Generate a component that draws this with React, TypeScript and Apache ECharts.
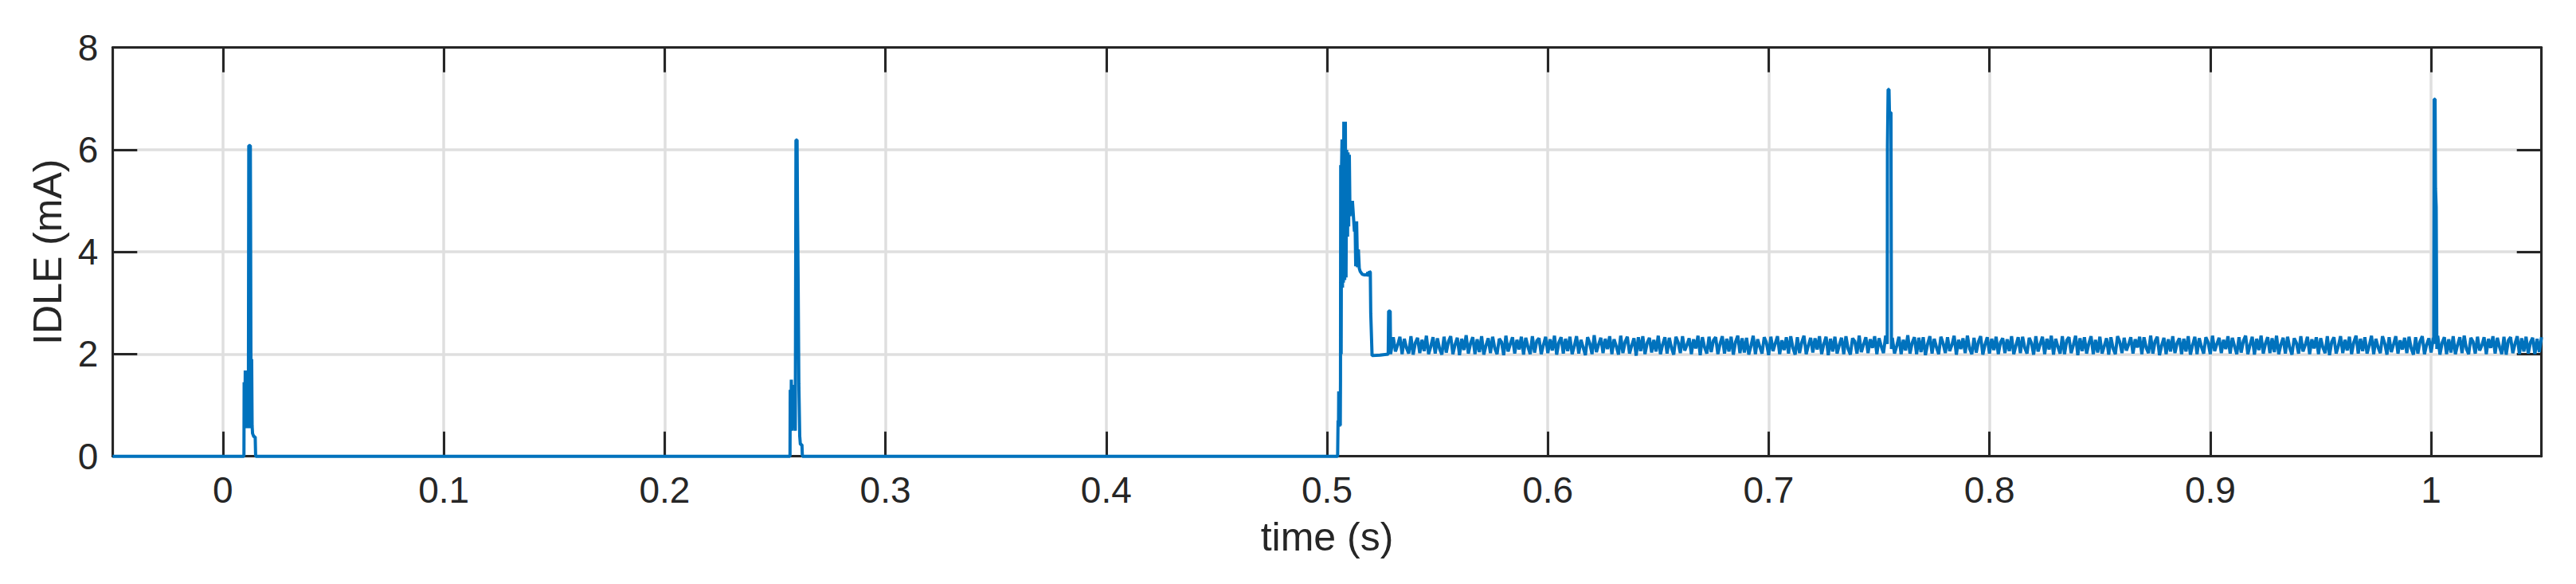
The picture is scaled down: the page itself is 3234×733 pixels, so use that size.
import React, { useEffect, useRef } from "react";
import * as echarts from "echarts";

// ---------- axes ----------
const X_MIN = -0.05;
const X_MAX = 1.05;
const X_SPLIT = 11;
const Y_MIN = 0;
const Y_MAX = 8;
const Y_STEP = 2;
const X_LABEL = "time (s)";
const Y_LABEL = "IDLE (mA)";

// ---------- data: [time (s), current (mA)] ----------
const IDLE_START: [number, number][] = [[-0.05, 0], [0.0095, 0]];

const BURST_1: [number, number][] = [
  [0.0096, 1.45], [0.0099, 0.6], [0.0101, 1.68], [0.0104, 0.55], [0.0106, 1.5],
  [0.0109, 0.6], [0.0112, 1.6], [0.0115, 0.55], [0.0117, 6.08], [0.0124, 6.08],
  [0.0125, 4.67], [0.0127, 1.4], [0.0128, 0.55], [0.013, 1.9], [0.0132, 0.6],
  [0.0134, 0.45], [0.014, 0.38], [0.0146, 0.38], [0.0148, 0], [0.2568, 0],
];

const BURST_2: [number, number][] = [
  [0.2569, 1.3], [0.2572, 0.6], [0.2574, 1.5], [0.2577, 0.5], [0.258, 1.4],
  [0.2584, 0.6], [0.2588, 1.2], [0.2592, 0.5], [0.2595, 6.19], [0.26, 6.19],
  [0.2602, 4.82], [0.2605, 3.33], [0.2608, 1.42], [0.2612, 0.4], [0.2615, 0.23],
  [0.2622, 0.23], [0.2624, 0], [0.5048, 0],
];

const WAKEUP: [number, number][] = [
  [0.505, 0.7], [0.5052, 0.6], [0.5053, 1.27], [0.5056, 0.58], [0.5058, 1.27],
  [0.506, 0.6], [0.5061, 1.5], [0.5062, 5.7], [0.5064, 2.0], [0.5066, 5.7],
  [0.5068, 6.2], [0.507, 3.3], [0.5072, 6.2], [0.5074, 3.4], [0.5076, 6.55],
  [0.508, 3.45], [0.5083, 6.55], [0.5086, 3.5], [0.5089, 6.0], [0.509, 4.8],
  [0.5093, 4.3], [0.5095, 5.95], [0.5098, 4.5], [0.5101, 5.9], [0.5104, 4.7],
  [0.5108, 5.0], [0.5112, 4.8], [0.5115, 5.0], [0.5124, 4.4], [0.5127, 4.6],
  [0.513, 3.72], [0.5134, 4.6], [0.5138, 3.7], [0.5142, 4.05], [0.5146, 3.68],
  [0.515, 3.62], [0.516, 3.56], [0.517, 3.55], [0.518, 3.55], [0.5185, 3.6],
  [0.5188, 3.52], [0.5192, 3.62], [0.5196, 3.6], [0.5198, 2.8], [0.5204, 1.97],
  [0.524, 1.98], [0.5277, 2.0], [0.5279, 2.84], [0.5286, 2.84], [0.5288, 2.0],
];

const SPIKE_3: [number, number][] = [
  [0.7537, 2.2], [0.7538, 6.07], [0.754, 6.07], [0.7541, 7.18], [0.7545, 7.18],
  [0.7547, 6.73], [0.7554, 6.73], [0.7556, 2.1],
];

const SPIKE_4: [number, number][] = [
  [1.0012, 2.2], [1.0014, 6.99], [1.0018, 6.99], [1.002, 5.24], [1.0023, 4.88],
  [1.0026, 2.1],
];

// steady-state ripple, sampled every BAND_STEP seconds from BAND_START
const BAND_START = 0.529;
const BAND_STEP = 0.001;
const BAND_VALUES: number[] = [
  2.00,2.33,2.05,2.18,2.34,2.00,2.30,2.12,2.01,2.35,1.99,2.22,2.32,2.02,2.28,2.06,2.36,2.00,2.15,2.33,
  2.01,2.31,2.10,1.99,2.34,2.03,2.25,2.35,2.00,2.19,2.32,1.98,2.30,2.08,2.37,2.01,2.21,2.33,2.00,2.29,
  2.04,2.35,1.99,2.17,2.31,2.02,2.34,2.11,2.00,2.30,2.24,1.98,2.36,2.05,2.20,2.33,2.01,2.28,2.09,2.34,
  1.99,2.32,2.14,2.00,2.35,2.03,2.26,2.31,2.00,2.18,2.34,2.02,2.29,2.07,2.36,1.99,2.23,2.33,2.01,2.30,
  2.06,2.34,2.00,2.16,2.35,2.01,2.28,2.13,1.98,2.33,2.21,2.00,2.37,2.04,2.19,2.32,2.02,2.30,2.10,2.35,
  2.00,2.29,2.15,1.99,2.36,2.02,2.24,2.34,2.01,2.17,2.31,1.97,2.33,2.06,2.35,2.00,2.22,2.32,2.03,2.28,
  2.05,2.36,2.00,2.19,2.33,2.01,2.32,2.12,1.99,2.34,2.23,2.02,2.35,2.07,2.18,2.31,2.00,2.29,2.11,2.36,
  1.98,2.33,2.13,2.01,2.34,2.04,2.27,2.33,2.00,2.20,2.35,2.01,2.30,2.05,2.34,1.99,2.24,2.36,2.02,2.31,
  2.03,2.32,1.99,2.16,2.36,2.00,2.29,2.14,2.01,2.33,2.22,1.98,2.34,2.06,2.21,2.35,2.00,2.27,2.08,2.33,
  2.01,2.35,2.12,1.99,2.33,2.02,2.23,2.36,2.00,2.17,2.32,2.03,2.31,2.09,2.35,2.00,2.20,2.34,1.98,2.30,
  2.05,2.34,2.01,2.18,2.32,2.00,2.35,2.10,1.99,2.31,2.25,2.01,2.36,2.04,2.19,2.33,2.02,2.29,2.12,2.35,
  2.00,2.31,2.15,2.02,2.36,1.99,2.26,2.32,2.01,2.16,2.34,2.00,2.28,2.07,2.37,2.01,2.22,2.33,2.00,2.32,
  2.04,2.33,1.98,2.20,2.35,2.01,2.30,2.13,2.00,2.34,2.21,2.02,2.33,2.06,2.18,2.36,1.99,2.28,2.10,2.31,
  2.02,2.36,2.11,2.00,2.32,2.03,2.24,2.35,1.99,2.19,2.33,2.01,2.30,2.08,2.34,2.00,2.23,2.31,2.02,2.29,
  2.06,2.35,2.00,2.17,2.33,2.02,2.34,2.12,2.01,2.32,2.22,1.99,2.35,2.05,2.20,2.34,2.00,2.30,2.09,2.36,
  1.99,2.30,2.14,2.01,2.35,2.00,2.27,2.33,2.02,2.18,2.36,1.98,2.31,2.06,2.33,2.01,2.21,2.35,2.00,2.28,
  2.03,2.34,2.01,2.16,2.31,1.99,2.33,2.11,2.00,2.35,2.24,2.02,2.32,2.07,2.19,2.33,2.01,2.29,2.13,2.34,
  2.00,2.33,2.12,2.02,2.36,2.01,2.25,2.34,1.98,2.17,2.32,2.00,2.29,2.05,2.35,2.02,2.22,2.31,2.00,2.30,
  2.05,2.35,1.99,2.18,2.34,2.00,2.31,2.14,2.01,2.33,2.23,2.00,2.36,2.06,2.20,2.32,2.02,2.28,2.10,2.35,
  2.01,2.32,2.15,2.00,2.33,2.03,2.26,2.36,2.00,2.18,2.34,1.99,2.30,2.08,2.36,2.01,2.21,2.33,2.02,2.31,
  2.04,2.36,2.00,2.19,2.32,2.01,2.34,2.12,1.99,2.31,2.22,2.01,2.35,2.05,2.18,2.34,2.00,2.29,2.11,2.33,
  2.00,2.31,2.13,2.02,2.35,1.98,2.24,2.33,2.01,2.16,2.35,2.02,2.28,2.07,2.34,2.00,2.23,2.36,2.01,2.30,
  2.06,2.33,2.01,2.17,2.36,2.00,2.30,2.13,2.02,2.35,2.21,1.99,2.33,2.04,2.19,2.35,2.01,2.27,2.09,2.32,
  2.02,2.34,2.11,1.99,2.33,2.01,2.25,2.35,2.00,2.19,2.31,2.03,2.32,2.06,2.36,1.99,2.22,2.33,2.00,2.29,
  2.03,2.35,2.00,2.18,2.33,2.02,2.36,2.10,2.00,2.32,2.24,2.01,2.34,2.07,2.17,2.33,2.00,2.30,2.12,2.35,
  2.01,2.32,2.14,2.00,2.34,1.99,2.27,2.33,2.02,2.20,2.35,2.00,2.31,2.05,2.34,2.01,2.23,2.32,2.00,2.30,
  2.04,2.33,
];

// ---------- styling ----------
const FONT = "'Liberation Sans', Arial, Helvetica, sans-serif";
const INK = "#262626";
const GRID_COLOR = "#dfdfdf";
const LINE_COLOR = "#0072BD";

function buildData(): [number, number][] {
  const spikes = [SPIKE_3, SPIKE_4];
  const band: [number, number][] = [];
  BAND_VALUES.forEach((v, i) => {
    const t = Math.round((BAND_START + i * BAND_STEP) * 1e6) / 1e6;
    const inSpike = spikes.some((s) => t >= s[0][0] && t <= s[s.length - 1][0]);
    if (!inSpike) band.push([t, v]);
  });
  const all = [...IDLE_START, ...BURST_1, ...BURST_2, ...WAKEUP, ...band, ...SPIKE_3, ...SPIKE_4];
  all.sort((a, b) => a[0] - b[0]);
  return all;
}

const fmtX = (v: number) => {
  if (Math.abs(v - X_MIN) < 1e-9 || Math.abs(v - X_MAX) < 1e-9) return "";
  return String(parseFloat(v.toFixed(2)));
};

export default function App() {
  const ref = useRef<HTMLDivElement>(null);
  useEffect(() => {
    if (!ref.current) return;
    const chart = echarts.init(ref.current, null, { renderer: "svg" });
    const axisLine = { show: true, onZero: false, lineStyle: { color: INK, width: 3 } };
    const axisTick = { show: true, inside: true, length: 31, lineStyle: { color: INK, width: 3 } };
    chart.setOption({
      animation: false,
      backgroundColor: "#ffffff",
      grid: { left: 141.3, right: 43.3, top: 59.7, bottom: 160.3, containLabel: false },
      xAxis: [
        {
          type: "value",
          position: "bottom",
          min: X_MIN,
          max: X_MAX,
          splitNumber: X_SPLIT,
          name: X_LABEL,
          nameLocation: "middle",
          nameGap: 76.5,
          nameTextStyle: { fontFamily: FONT, fontSize: 50, color: INK },
          axisLine,
          axisTick,
          axisLabel: {
            show: true,
            margin: 19,
            fontFamily: FONT,
            fontSize: 46,
            color: INK,
            showMinLabel: false,
            showMaxLabel: false,
            hideOverlap: false,
            formatter: fmtX,
          },
          splitLine: { show: true, lineStyle: { color: GRID_COLOR, width: 3.5 } },
        },
        {
          type: "value",
          position: "top",
          min: X_MIN,
          max: X_MAX,
          splitNumber: X_SPLIT,
          axisLine,
          axisTick,
          axisLabel: { show: false },
          splitLine: { show: false },
        },
      ],
      yAxis: [
        {
          type: "value",
          position: "left",
          min: Y_MIN,
          max: Y_MAX,
          interval: Y_STEP,
          name: Y_LABEL,
          nameLocation: "middle",
          nameGap: 56.5,
          nameRotate: 90,
          nameTextStyle: { fontFamily: FONT, fontSize: 50, color: INK },
          axisLine,
          axisTick,
          axisLabel: { show: true, margin: 18, fontFamily: FONT, fontSize: 46, color: INK },
          splitLine: { show: true, lineStyle: { color: GRID_COLOR, width: 3.5 } },
        },
        {
          type: "value",
          position: "right",
          min: Y_MIN,
          max: Y_MAX,
          interval: Y_STEP,
          axisLine,
          axisTick,
          axisLabel: { show: false },
          splitLine: { show: false },
        },
      ],
      series: [
        {
          type: "line",
          xAxisIndex: 0,
          yAxisIndex: 0,
          data: buildData(),
          showSymbol: false,
          symbol: "none",
          clip: false,
          z: 5,
          lineStyle: { color: LINE_COLOR, width: 4 },
        },
      ],
    });
    return () => chart.dispose();
  }, []);
  return (
    <div
      ref={ref}
      style={{ position: "fixed", left: 0, top: 0, width: "3234px", height: "733px", background: "#fff" }}
    />
  );
}
